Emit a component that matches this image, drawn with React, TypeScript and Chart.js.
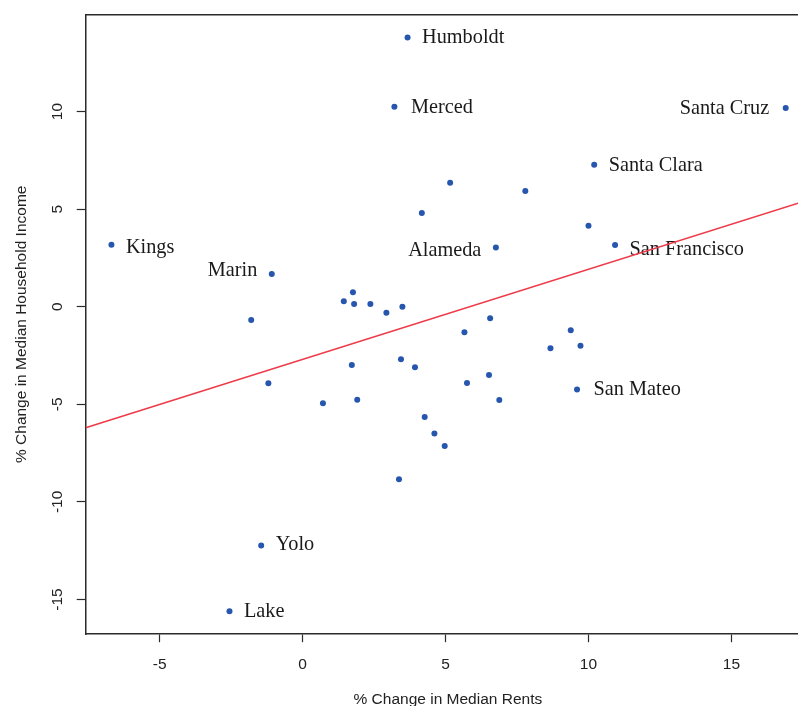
import React, { useEffect, useRef } from 'react';
import { Chart, registerables } from 'chart.js';

Chart.register(...registerables);

// ---- data ----
const countyNames = [
  'Humboldt', 'Merced', 'Santa Cruz', 'Santa Clara', '', '', '', '',
  'Kings', 'Alameda', 'San Francisco', 'Marin',
  '', '', '', '', '', '', '', '', '', '', '', '', '', '', '', '', '', '',
  'San Mateo', '', '', '', '', '', '', '', 'Yolo', 'Lake',
];
const rentChange = [
  3.67, 3.21, 16.9, 10.2, 5.16, 7.79, 4.17, 10.0,
  -6.69, 6.76, 10.93, -1.08,
  1.76, 1.44, 1.8, 2.37, 2.93, 3.49, -1.8, 6.56, 5.66, 9.38, 8.67, 9.72, 3.44, 3.93, 1.72, 6.52, -1.2, 5.75,
  9.6, 1.91, 6.88, 0.71, 4.27, 4.61, 4.97, 3.37, -1.45, -2.56,
];
const incomeChange = [
  13.8, 10.25, 10.19, 7.27, 6.35, 5.93, 4.8, 4.15,
  3.18, 3.04, 3.16, 1.68,
  0.74, 0.28, 0.14, 0.14, -0.31, 0.0, -0.68, -0.59, -1.31, -1.21, -2.13, -2.0, -2.69, -3.1, -2.99, -3.5, -3.92, -3.91,
  -4.24, -4.76, -4.78, -4.95, -5.65, -6.49, -7.14, -8.84, -12.24, -15.6,
];
const xTickValues = [-5, 0, 5, 10, 15];
const yTickValues = [-15, -10, -5, 0, 5, 10];
const fitIntercept = -2.697;
const fitSlope = 0.4615;

const X_MIN = -7.59;
const X_MAX = 17.75;
const Y_MIN = -16.78;
const Y_MAX = 14.98;

// ---- layout / style ----
const CANVAS_W = 813;
const CANVAS_H = 712;
const PLOT_LEFT = 85.7;
const PLOT_TOP = 14.4;
const PLOT_BOTTOM = 634.2;
const FRAME = '#2b2b2b';
const TEXT = '#222222';
const SANS = 'Liberation Sans';
const leftLabels = ['Santa Cruz', 'Alameda', 'Marin'];
const labelNudge: Record<string, [number, number]> = {
  Kings: [0, 2],
  Alameda: [0, 2.7],
  'San Francisco': [0, 3.7],
  Marin: [0, -4],
  Yolo: [0, -1.7],
  Merced: [2, 0],
  'Santa Cruz': [-2, 0],
  'San Mateo': [2, 0],
};
const LABEL_GAP = 14.5;
const LABEL_BASELINE = 6;

const labelPlugin = {
  id: 'countyLabels',
  beforeDatasetsDraw(chart: any) {
    const meta = chart.getDatasetMeta(0);
    const ctx = chart.ctx;
    ctx.save();
    ctx.font = '20.3px "Liberation Serif"';
    ctx.fillStyle = '#1a1a1a';
    ctx.textBaseline = 'alphabetic';
    meta.data.forEach((pt: any, i: number) => {
      const name = countyNames[i];
      if (!name) return;
      const left = leftLabels.includes(name);
      const [dx, dy] = labelNudge[name] || [0, 0];
      ctx.textAlign = left ? 'right' : 'left';
      ctx.fillText(name, pt.x + (left ? -LABEL_GAP : LABEL_GAP) + dx, pt.y + LABEL_BASELINE + dy);
    });
    ctx.restore();
  },
};

const noPad = (s: any) => {
  s.paddingLeft = 0;
  s.paddingRight = 0;
  s.paddingTop = 0;
  s.paddingBottom = 0;
};

export default function App() {
  const ref = useRef<HTMLCanvasElement | null>(null);

  useEffect(() => {
    if (!ref.current) return;
    const points = rentChange.map((x, i) => ({ x, y: incomeChange[i] }));
    const fitLine = [X_MIN, X_MAX].map((x) => ({ x, y: fitIntercept + fitSlope * x }));
    const tickFont = { family: SANS, size: 15.5 };
    const chart = new Chart(ref.current, {
      type: 'scatter',
      data: {
        datasets: [
          {
            data: points,
            pointRadius: 3,
            pointBackgroundColor: '#2656AD',
            pointBorderWidth: 0,
            pointHoverRadius: 3,
          },
          {
            data: fitLine,
            showLine: true,
            pointRadius: 0,
            borderColor: '#EE3A48',
            borderWidth: 1.5,
          } as any,
        ],
      },
      options: {
        animation: false,
        responsive: false,
        devicePixelRatio: 1,
        layout: { padding: 0 },
        plugins: { legend: { display: false }, tooltip: { enabled: false } },
        scales: {
          x: {
            type: 'linear',
            position: 'bottom',
            min: X_MIN,
            max: X_MAX,
            afterBuildTicks: (s: any) => {
              s.ticks = xTickValues.map((v) => ({ value: v }));
            },
            afterFit: (s: any) => {
              s.height = CANVAS_H - PLOT_BOTTOM;
              noPad(s);
            },
            grid: { display: true, drawOnChartArea: false, drawTicks: true, tickLength: 8, tickColor: FRAME, tickWidth: 1.2 },
            border: { display: true, color: FRAME, width: 1.5 },
            ticks: { font: tickFont, color: TEXT, padding: 13, maxRotation: 0, minRotation: 0 },
            title: {
              display: true,
              text: '% Change in Median Rents',
              font: { family: SANS, size: 15.5, lineHeight: 1.2 },
              color: TEXT,
              padding: { top: 0, bottom: 2.5 },
            },
          },
          x2: {
            type: 'linear',
            position: 'top',
            min: X_MIN,
            max: X_MAX,
            ticks: { display: false },
            grid: { display: false },
            border: { display: true, color: FRAME, width: 1.5 },
            afterFit: (s: any) => {
              s.height = PLOT_TOP;
              noPad(s);
            },
          },
          y: {
            type: 'linear',
            position: 'left',
            min: Y_MIN,
            max: Y_MAX,
            afterBuildTicks: (s: any) => {
              s.ticks = yTickValues.map((v) => ({ value: v }));
            },
            afterFit: (s: any) => {
              s.width = PLOT_LEFT;
              noPad(s);
            },
            grid: { display: true, drawOnChartArea: false, drawTicks: true, tickLength: 9, tickColor: FRAME, tickWidth: 1.2 },
            border: { display: true, color: FRAME, width: 1.5 },
            ticks: { font: tickFont, color: TEXT, padding: 8, minRotation: 90, maxRotation: 90, crossAlign: 'center' },
            title: {
              display: true,
              text: '% Change in Median Household Income',
              font: { family: SANS, size: 15.5, lineHeight: 1.2 },
              color: TEXT,
              padding: { top: 12.5, bottom: 0 },
            },
          },
        },
      } as any,
      plugins: [labelPlugin],
    });
    return () => chart.destroy();
  }, []);

  return (
    <div style={{ position: 'fixed', left: 0, top: 0, width: 798, height: 706, overflow: 'hidden', background: '#fff' }}>
      <canvas ref={ref} width={CANVAS_W} height={CANVAS_H} style={{ width: CANVAS_W, height: CANVAS_H, display: 'block' }} />
    </div>
  );
}
